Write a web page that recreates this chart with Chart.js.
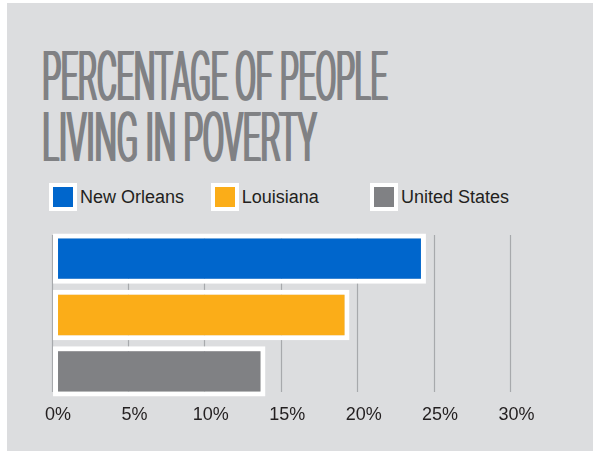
<!DOCTYPE html>
<html>
<head>
<meta charset="utf-8">
<script src="https://cdn.jsdelivr.net/npm/chart.js@4"></script>
<style>
  html, body { margin: 0; padding: 0; background: #ffffff; }
  body { width: 593px; height: 456px; position: relative; overflow: hidden; }
  #panel { position: absolute; left: 7px; top: 3px; width: 586px; height: 448px; background: #dcdddf; }
  #title {
    position: absolute; left: 41px; top: 46px;
    font-family: Roboto, "Liberation Sans", sans-serif; font-weight: 300;
    font-size: 68.5px; line-height: 61.3px; color: #808184;
    white-space: nowrap;
    text-shadow: 2px 0 0 #808184, 4px 0 0 #808184, 6px 0 0 #808184;
  }
  #title span { display: inline-block; transform-origin: 0 0; }
  #legend { position: absolute; left: 49px; top: 183px; display: flex; align-items: center;
    font-family: "Liberation Sans", Arial, sans-serif; font-size: 18px; color: #231f20; }
  #legend .item { display: flex; align-items: center; }
  #legend .item:nth-child(1) { width: 161.7px; }
  #legend .item:nth-child(2) { width: 159.3px; }
  #legend .box { width: 28px; height: 28px; box-sizing: border-box; border: 4.5px solid #ffffff; margin-right: 3px; }
  #chart { position: absolute; left: 0; top: 0; }
</style>
</head>
<body>
<div id="panel"></div>
<div id="title"><span data-w="348">PERCENTAGE OF PEOPLE</span><br><span data-w="277">LIVING IN POVERTY</span></div>
<div id="legend"></div>
<canvas id="chart" width="593" height="456"></canvas>
<script>
// Poverty rates (%), one bar per area
const areas = ['New Orleans', 'Louisiana', 'United States'];
const rates = [24.5, 19.5, 14.0];
const colors = ['#0066cc', '#fbad18', '#808184'];
const tickValues = [0, 5, 10, 15, 20, 25, 30];

// Squeeze each title line into a condensed headline
document.querySelectorAll('#title span').forEach(s => {
  const w = s.getBoundingClientRect().width + 6;
  s.style.transform = 'scaleX(' + (Number(s.dataset.w) / w) + ')';
});

// Vertical grid lines that stop short of the bar block edges
const gridLines = {
  id: 'gridLines',
  beforeDatasetsDraw(chart) {
    const { ctx, chartArea, scales: { x } } = chart;
    ctx.save();
    ctx.strokeStyle = '#a7a9ac';
    ctx.lineWidth = 1.2;
    x.ticks.forEach(t => {
      const px = Math.round(x.getPixelForValue(t.value)) + 0.5;
      ctx.beginPath();
      ctx.moveTo(px, chartArea.top + 4.5);
      ctx.lineTo(px, chartArea.bottom - 7.5);
      ctx.stroke();
    });
    ctx.restore();
  }
};

// HTML legend built from the datasets
const htmlLegend = {
  id: 'htmlLegend',
  afterUpdate(chart) {
    const box = document.getElementById('legend');
    box.innerHTML = '';
    chart.data.datasets.forEach(ds => {
      const item = document.createElement('div');
      item.className = 'item';
      const sw = document.createElement('span');
      sw.className = 'box';
      sw.style.background = ds.backgroundColor;
      const txt = document.createElement('span');
      txt.textContent = ds.label;
      item.appendChild(sw);
      item.appendChild(txt);
      box.appendChild(item);
    });
  }
};

new Chart(document.getElementById('chart'), {
  type: 'bar',
  data: {
    labels: [''],
    datasets: areas.map((name, i) => ({
      label: name,
      data: [rates[i]],
      base: 0.1,
      backgroundColor: colors[i],
      borderColor: '#ffffff',
      borderWidth: 5,
      borderSkipped: false,
      categoryPercentage: 1,
      barPercentage: 50 / 56,
      clip: false
    }))
  },
  options: {
    indexAxis: 'y',
    responsive: false,
    devicePixelRatio: 1,
    animation: false,
    layout: { padding: { left: 51.5, right: 83, top: 230.5, bottom: 28.5 } },
    plugins: { legend: { display: false }, tooltip: { enabled: false } },
    scales: {
      y: { display: false },
      x: {
        min: 0, max: 30,
        afterBuildTicks(scale) { scale.ticks = tickValues.map(v => ({ value: v })); },
        afterFit(scale) { scale.height = 28; },
        grid: { display: false },
        border: { display: false },
        ticks: {
          padding: -3.5,
          labelOffset: 6.5,
          color: '#231f20',
          font: { family: 'Liberation Sans', size: 18 },
          callback: v => v + '%'
        }
      }
    }
  },
  plugins: [gridLines, htmlLegend]
});
</script>
</body>
</html>
